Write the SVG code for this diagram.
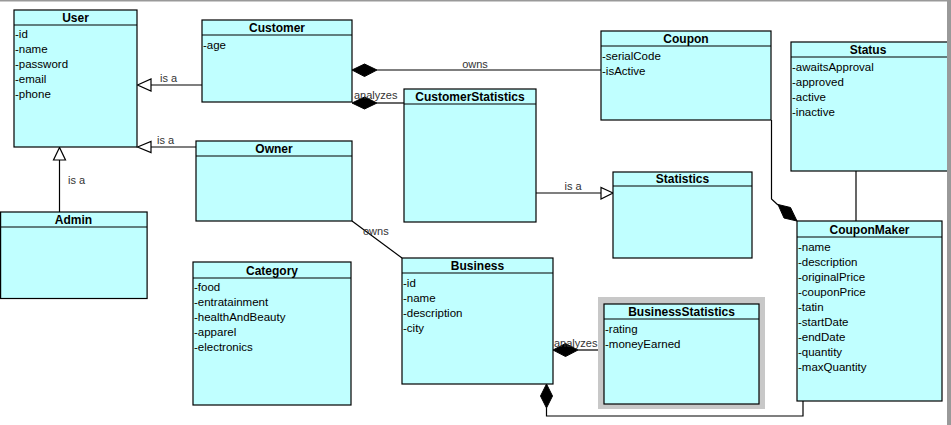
<svg xmlns="http://www.w3.org/2000/svg" width="951" height="425" viewBox="0 0 951 425">
<style>
.box{fill:#c0ffff;stroke:#000;stroke-width:1.2}
.hd{stroke:#000;stroke-width:1.2}
.t{font-family:"Liberation Sans",Arial,sans-serif;font-size:12px;font-weight:bold;text-anchor:middle;fill:#000}
.a{font-family:"Liberation Sans",Arial,sans-serif;font-size:11.5px;fill:#000}
.l{font-family:"Liberation Sans",Arial,sans-serif;font-size:11px;fill:#333}
.ln{fill:none;stroke:#000;stroke-width:1.2}
.tri{fill:#fff;stroke:#000;stroke-width:1.2}
.dia{fill:#000;stroke:#000;stroke-width:1}
</style>
<rect x="0" y="0" width="951" height="425" fill="#fff"/>
<rect x="0" y="0" width="951" height="1.5" fill="#999"/>

<g id="connectors">
  <line class="ln" x1="151" y1="85" x2="202" y2="85"/>
  <polygon class="tri" points="137.5,85 151,79 151,91"/>
  <text class="l" x="160" y="82">is a</text>

  <line class="ln" x1="151" y1="147" x2="196" y2="147"/>
  <polygon class="tri" points="137.5,147 151,141.5 151,152.5"/>
  <text class="l" x="157" y="144">is a</text>

  <line class="ln" x1="59.5" y1="160" x2="59.5" y2="212"/>
  <polygon class="tri" points="59.5,147.5 53.5,160 65.5,160"/>
  <text class="l" x="68" y="184">is a</text>

  <line class="ln" x1="377" y1="70" x2="601" y2="70"/>
  <polygon class="dia" points="352,70 364.5,64 377,70 364.5,76.5"/>
  <text class="l" x="475" y="68" text-anchor="middle">owns</text>

  <line class="ln" x1="377" y1="103" x2="404" y2="103"/>
  <polygon class="dia" points="352,103 364.5,97 377,103 364.5,109"/>
  <text class="l" x="354" y="99">analyzes</text>

  <line class="ln" x1="536" y1="193" x2="601" y2="193"/>
  <polygon class="tri" points="613,193 601,187.5 601,199"/>
  <text class="l" x="573" y="190" text-anchor="middle">is a</text>

  <line class="ln" x1="352" y1="221" x2="402" y2="258"/>
  <text class="l" x="363" y="235">owns</text>

  <line class="ln" x1="578" y1="350" x2="604" y2="350"/>
  <polygon class="dia" points="553,350 565.5,343.5 578,350 565.5,356.5"/>
  <text class="l" x="554" y="347">analyzes</text>

  <path class="ln" d="M546.5,408 V416 H803 V401"/>
  <polygon class="dia" points="546.5,384 552.5,396 546.5,408 540.5,396"/>

  <path class="ln" d="M771.5,120 V199 L778,205"/>
  <polygon class="dia" points="778,204.5 790.5,207.5 797,221 784,218"/>

  <line class="ln" x1="856" y1="171" x2="856" y2="221"/>
</g>

<g id="User">
  <rect class="box" x="14" y="10" width="123" height="137"/>
  <line class="hd" x1="14" y1="25" x2="137" y2="25"/>
  <text class="t" x="75.5" y="22">User</text>
  <text class="a" x="15" y="38">-id</text>
  <text class="a" x="15" y="53">-name</text>
  <text class="a" x="15" y="68">-password</text>
  <text class="a" x="15" y="83">-email</text>
  <text class="a" x="15" y="98">-phone</text>
</g>

<g id="Customer">
  <rect class="box" x="202" y="20" width="150" height="82"/>
  <line class="hd" x1="202" y1="35" x2="352" y2="35"/>
  <text class="t" x="277" y="32">Customer</text>
  <text class="a" x="203" y="49">-age</text>
</g>

<g id="Coupon">
  <rect class="box" x="601" y="31" width="170" height="89"/>
  <line class="hd" x1="601" y1="46" x2="771" y2="46"/>
  <text class="t" x="686" y="43">Coupon</text>
  <text class="a" x="602" y="60">-serialCode</text>
  <text class="a" x="602" y="75">-isActive</text>
</g>

<g id="Status">
  <rect class="box" x="791" y="42" width="158" height="129"/>
  <line class="hd" x1="791" y1="57" x2="949" y2="57"/>
  <text class="t" x="868" y="54">Status</text>
  <text class="a" x="792" y="71">-awaitsApproval</text>
  <text class="a" x="792" y="86">-approved</text>
  <text class="a" x="792" y="101">-active</text>
  <text class="a" x="792" y="116">-inactive</text>
</g>

<g id="CustomerStatistics">
  <rect class="box" x="404" y="89" width="132" height="133"/>
  <line class="hd" x1="404" y1="104" x2="536" y2="104"/>
  <text class="t" x="470" y="101">CustomerStatistics</text>
</g>

<g id="Owner">
  <rect class="box" x="196" y="141" width="156" height="80"/>
  <line class="hd" x1="196" y1="156" x2="352" y2="156"/>
  <text class="t" x="274" y="153">Owner</text>
</g>

<g id="Admin">
  <rect class="box" x="0.6" y="212" width="146.5" height="86.5"/>
  <line class="hd" x1="0.6" y1="227" x2="147" y2="227"/>
  <text class="t" x="73.5" y="224">Admin</text>
</g>

<g id="Statistics">
  <rect class="box" x="613" y="172" width="139" height="86"/>
  <line class="hd" x1="613" y1="186" x2="752" y2="186"/>
  <text class="t" x="682.5" y="183">Statistics</text>
</g>

<g id="CouponMaker">
  <rect class="box" x="797" y="221" width="145" height="180"/>
  <line class="hd" x1="797" y1="237" x2="942" y2="237"/>
  <text class="t" x="869.5" y="233.5">CouponMaker</text>
  <text class="a" x="798" y="250.5">-name</text>
  <text class="a" x="798" y="265.5">-description</text>
  <text class="a" x="798" y="280.5">-originalPrice</text>
  <text class="a" x="798" y="295.5">-couponPrice</text>
  <text class="a" x="798" y="310.5">-tatin</text>
  <text class="a" x="798" y="325.5">-startDate</text>
  <text class="a" x="798" y="340.5">-endDate</text>
  <text class="a" x="798" y="355.5">-quantity</text>
  <text class="a" x="798" y="370.5">-maxQuantity</text>
</g>

<g id="Category">
  <rect class="box" x="193" y="262" width="158" height="143"/>
  <line class="hd" x1="193" y1="278" x2="351" y2="278"/>
  <text class="t" x="272" y="274.5">Category</text>
  <text class="a" x="194" y="291">-food</text>
  <text class="a" x="194" y="306">-entratainment</text>
  <text class="a" x="194" y="321">-healthAndBeauty</text>
  <text class="a" x="194" y="336">-apparel</text>
  <text class="a" x="194" y="351">-electronics</text>
</g>

<g id="Business">
  <rect class="box" x="402" y="258" width="151" height="126"/>
  <line class="hd" x1="402" y1="273" x2="553" y2="273"/>
  <text class="t" x="477.5" y="270">Business</text>
  <text class="a" x="403" y="287">-id</text>
  <text class="a" x="403" y="302">-name</text>
  <text class="a" x="403" y="317">-description</text>
  <text class="a" x="403" y="332">-city</text>
</g>

<g id="BusinessStatistics">
  <rect x="598" y="297" width="167" height="112" fill="#c8c8c8"/>
  <rect class="box" x="604" y="304" width="155" height="100"/>
  <line class="hd" x1="604" y1="319" x2="759" y2="319"/>
  <text class="t" x="681.5" y="316">BusinessStatistics</text>
  <text class="a" x="605" y="333">-rating</text>
  <text class="a" x="605" y="348">-moneyEarned</text>
</g>

<rect x="947" y="0" width="4" height="425" fill="#999"/>
</svg>
